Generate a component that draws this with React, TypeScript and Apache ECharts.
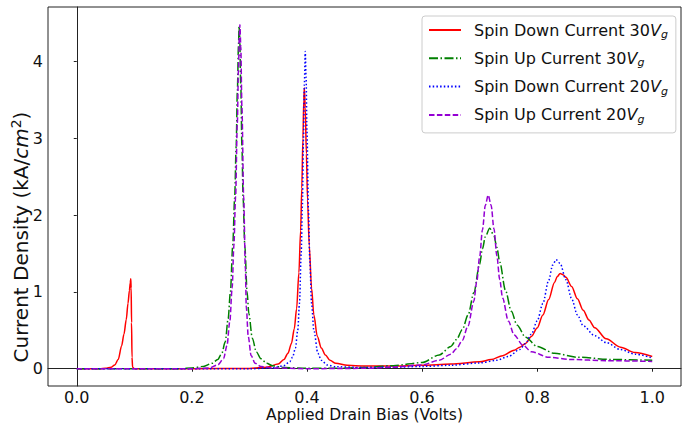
import React, { useEffect, useRef } from "react";
import * as echarts from "echarts";

const FONT = '"DejaVu Sans", Verdana, sans-serif';

const seriesNames = [
  "Spin Down Current 30Vg",
  "Spin Up Current 30Vg",
  "Spin Down Current 20Vg",
  "Spin Up Current 20Vg",
];
const legendPrefixes = [
  "Spin Down Current 30",
  "Spin Up Current 30",
  "Spin Down Current 20",
  "Spin Up Current 20",
];

const xTicks = [0, 0.2, 0.4, 0.6, 0.8, 1.0];
const yTicks = [0, 1, 2, 3, 4];
const xTitle = "Applied Drain Bias (Volts)";

// Spin Down Current 30Vg (red, solid)
const spinDown30: [number, number][] = [
  [0.0, 0], [0.04, 0], [0.05, 0.005], [0.06, 0.02], [0.066, 0.05], [0.072, 0.12],
  [0.078, 0.3], [0.082, 0.45], [0.086, 0.64], [0.089, 0.85], [0.0915, 1.02],
  [0.093, 1.12], [0.0938, 1.17], [0.0945, 1.05], [0.0952, 0.6], [0.096, 0.15],
  [0.097, 0.02], [0.1, 0], [0.2, 0], [0.3, 0.003], [0.33, 0.02], [0.35, 0.06],
  [0.36, 0.12], [0.367, 0.2], [0.373, 0.33], [0.378, 0.52], [0.382, 0.78],
  [0.386, 1.25], [0.389, 1.8], [0.391, 2.35], [0.393, 3.0], [0.3945, 3.5],
  [0.3955, 3.66], [0.397, 3.4], [0.399, 2.8], [0.401, 2.2], [0.404, 1.6],
  [0.408, 1.05], [0.412, 0.7], [0.418, 0.42], [0.425, 0.27], [0.432, 0.18],
  [0.44, 0.11], [0.45, 0.07], [0.47, 0.045], [0.5, 0.035], [0.55, 0.035],
  [0.6, 0.045], [0.65, 0.06], [0.7, 0.09], [0.72, 0.12], [0.74, 0.17],
  [0.76, 0.24], [0.77, 0.28], [0.78, 0.33], [0.79, 0.42], [0.8, 0.53],
  [0.81, 0.7], [0.82, 0.9], [0.83, 1.12], [0.835, 1.2], [0.84, 1.24],
  [0.845, 1.225], [0.85, 1.19], [0.86, 1.07], [0.87, 0.91], [0.88, 0.76],
  [0.89, 0.635], [0.9, 0.535], [0.92, 0.39], [0.945, 0.28], [0.97, 0.21],
  [1.0, 0.16],
];

// Spin Up Current 30Vg (green, dash-dot)
const spinUp30: [number, number][] = [
  [0.0, 0], [0.18, 0], [0.2, 0.01], [0.22, 0.03], [0.235, 0.07], [0.245, 0.12],
  [0.252, 0.2], [0.258, 0.35], [0.263, 0.65], [0.267, 1.0], [0.271, 1.6],
  [0.2744, 2.23], [0.277, 2.9], [0.279, 3.6], [0.281, 4.2], [0.282, 4.46],
  [0.283, 4.35], [0.285, 3.7], [0.287, 2.9], [0.289, 2.23], [0.292, 1.6],
  [0.296, 1.0], [0.299, 0.72], [0.305, 0.4], [0.312, 0.22], [0.32, 0.13],
  [0.33, 0.07], [0.34, 0.04], [0.36, 0.015], [0.4, 0.005], [0.45, 0.005],
  [0.5, 0.015], [0.55, 0.04], [0.6, 0.08], [0.63, 0.18], [0.65, 0.29],
  [0.66, 0.38], [0.67, 0.51], [0.68, 0.7], [0.69, 0.99], [0.7, 1.36],
  [0.705, 1.56], [0.71, 1.72], [0.7175, 1.83], [0.725, 1.73], [0.73, 1.58],
  [0.735, 1.39], [0.745, 1.02], [0.755, 0.75], [0.765, 0.57], [0.78, 0.41],
  [0.8, 0.29], [0.83, 0.2], [0.87, 0.15], [0.93, 0.12], [1.0, 0.11],
];

// Spin Down Current 20Vg (blue, dotted)
const spinDown20: [number, number][] = [
  [0.0, 0], [0.3, 0], [0.34, 0.01], [0.36, 0.04], [0.37, 0.09], [0.375, 0.15],
  [0.38, 0.27], [0.384, 0.5], [0.387, 0.85], [0.39, 1.5], [0.392, 2.1],
  [0.394, 3.0], [0.3955, 3.7], [0.397, 4.13], [0.3985, 3.8], [0.4, 3.1],
  [0.4026, 2.07], [0.405, 1.4], [0.408, 0.85], [0.412, 0.5], [0.419, 0.2],
  [0.425, 0.11], [0.435, 0.05], [0.45, 0.025], [0.5, 0.015], [0.55, 0.02],
  [0.6, 0.03], [0.65, 0.045], [0.7, 0.075], [0.73, 0.11], [0.75, 0.16],
  [0.77, 0.25], [0.78, 0.33], [0.79, 0.45], [0.8, 0.62], [0.81, 0.85],
  [0.82, 1.15], [0.827, 1.35], [0.833, 1.42], [0.84, 1.37], [0.85, 1.16],
  [0.86, 0.91], [0.87, 0.7], [0.88, 0.56], [0.9, 0.43], [0.92, 0.34],
  [0.945, 0.25], [0.97, 0.19], [1.0, 0.14],
];

// Spin Up Current 20Vg (purple, dashed)
const spinUp20: [number, number][] = [
  [0.0, 0], [0.2, 0], [0.23, 0.01], [0.245, 0.05], [0.255, 0.13], [0.261, 0.3],
  [0.266, 0.62], [0.27, 1.05], [0.273, 1.6], [0.276, 2.24], [0.279, 3.2],
  [0.281, 3.9], [0.2825, 4.35], [0.2835, 4.48], [0.285, 4.2], [0.287, 3.4],
  [0.29, 2.24], [0.293, 1.3], [0.2946, 0.8], [0.298, 0.42], [0.303, 0.17],
  [0.31, 0.07], [0.32, 0.03], [0.34, 0.01], [0.4, 0], [0.5, 0.005],
  [0.55, 0.02], [0.6, 0.05], [0.63, 0.11], [0.65, 0.19], [0.66, 0.26],
  [0.67, 0.37], [0.68, 0.56], [0.69, 0.88], [0.695, 1.13], [0.7, 1.45],
  [0.705, 1.81], [0.71, 2.13], [0.715, 2.26], [0.72, 2.13], [0.725, 1.82],
  [0.73, 1.47], [0.735, 1.16], [0.74, 0.92], [0.75, 0.62], [0.76, 0.44],
  [0.775, 0.31], [0.79, 0.22], [0.82, 0.15], [0.86, 0.12], [0.92, 0.105],
  [1.0, 0.095],
];

const seriesData = [spinDown30, spinUp30, spinDown20, spinUp20];
const seriesColors = ["#ff0000", "#008000", "#0000ff", "#9400d3"];
const seriesDash: any[] = ["solid", [9, 2.5, 1.5, 2.5], [1.5, 2.2], [5.5, 2.4]];

export default function App() {
  const ref = useRef<HTMLDivElement>(null);
  useEffect(() => {
    if (!ref.current) return;
    const chart = echarts.init(ref.current, null, { renderer: "svg" });
    const axisColor = "#222";
    const option: any = {
      animation: false,
      backgroundColor: "#ffffff",
      textStyle: { fontFamily: FONT },
      grid: {
        left: 48,
        right: 5,
        top: 7,
        bottom: 38,
        show: true,
        borderColor: axisColor,
        borderWidth: 1,
        backgroundColor: "transparent",
        outerBoundsMode: "none",
        containLabel: false,
      },
      xAxis: {
        type: "value",
        min: -0.05,
        max: 1.05,
        axisLine: { show: true, lineStyle: { color: axisColor, width: 1 } },
        axisTick: { show: true, length: 3, customValues: xTicks, lineStyle: { color: axisColor } },
        axisLabel: {
          customValues: xTicks,
          formatter: (v: number) => v.toFixed(1),
          fontFamily: FONT,
          fontSize: 16,
          lineHeight: 16,
          color: "#111",
          margin: 3,
        },
        splitLine: { show: false },
      },
      yAxis: {
        type: "value",
        min: -0.225,
        max: 4.71,
        axisLine: { show: true, lineStyle: { color: axisColor, width: 1 } },
        axisTick: { show: true, length: 3, customValues: yTicks, lineStyle: { color: axisColor } },
        axisLabel: {
          customValues: yTicks,
          formatter: (v: number) => String(v),
          fontFamily: FONT,
          fontSize: 16,
          color: "#111",
          margin: 5,
        },
        splitLine: { show: false },
      },
      legend: {
        orient: "vertical",
        left: 422,
        top: 16,
        itemWidth: 32,
        itemHeight: 14,
        itemGap: 8.3,
        padding: [4, 8, 8, 6],
        backgroundColor: "rgba(255,255,255,0.8)",
        borderColor: "#cccccc",
        borderWidth: 1,
        borderRadius: 3,
        data: seriesNames,
        itemStyle: { opacity: 0 },
        formatter: (name: string) => {
          const i = seriesNames.indexOf(name);
          return legendPrefixes[i] + "{v|V}{g|g}";
        },
        textStyle: {
          fontFamily: FONT,
          fontSize: 16,
          color: "#111",
          lineHeight: 20,
          padding: [0, 0, 0, 8],
          rich: {
            v: { fontFamily: FONT, fontSize: 16, fontStyle: "italic", color: "#111", lineHeight: 20 },
            g: { fontFamily: FONT, fontSize: 11, fontStyle: "italic", color: "#111", verticalAlign: "bottom", lineHeight: 20 },
          },
        },
      },
      graphic: [
        {
          type: "text",
          x: 364.5,
          y: 415,
          style: {
            text: xTitle,
            fontFamily: FONT,
            fontSize: 15.5,
            lineHeight: 16,
            fill: "#111",
            align: "center",
            verticalAlign: "middle",
          },
        },
        {
          type: "text",
          x: 21,
          y: 237,
          rotation: Math.PI / 2,
          style: {
            text: "Current Density (kA/{i|cm}{s|2})",
            fontFamily: FONT,
            fontSize: 20,
            fill: "#111",
            align: "center",
            verticalAlign: "middle",
            lineHeight: 24,
            rich: {
              i: { fontFamily: FONT, fontSize: 20, fontStyle: "italic", fill: "#111", lineHeight: 24 },
              s: { fontFamily: FONT, fontSize: 14, fill: "#111", verticalAlign: "top", lineHeight: 24 },
            },
          },
        },
      ],
      series: seriesData.map((d, i) => ({
        name: seriesNames[i],
        type: "line",
        data: d,
        symbol: "none",
        showSymbol: false,
        smooth: 0.3,
        smoothMonotone: "x",
        lineStyle: { color: seriesColors[i], width: 1.5, type: seriesDash[i] },
        itemStyle: { color: seriesColors[i] },
        z: 2 + i,
      })),
    };
    chart.setOption(option);
    return () => chart.dispose();
  }, []);
  return (
    <div
      ref={ref}
      style={{ position: "fixed", left: 0, top: 0, width: 686, height: 424, background: "#fff" }}
    />
  );
}
